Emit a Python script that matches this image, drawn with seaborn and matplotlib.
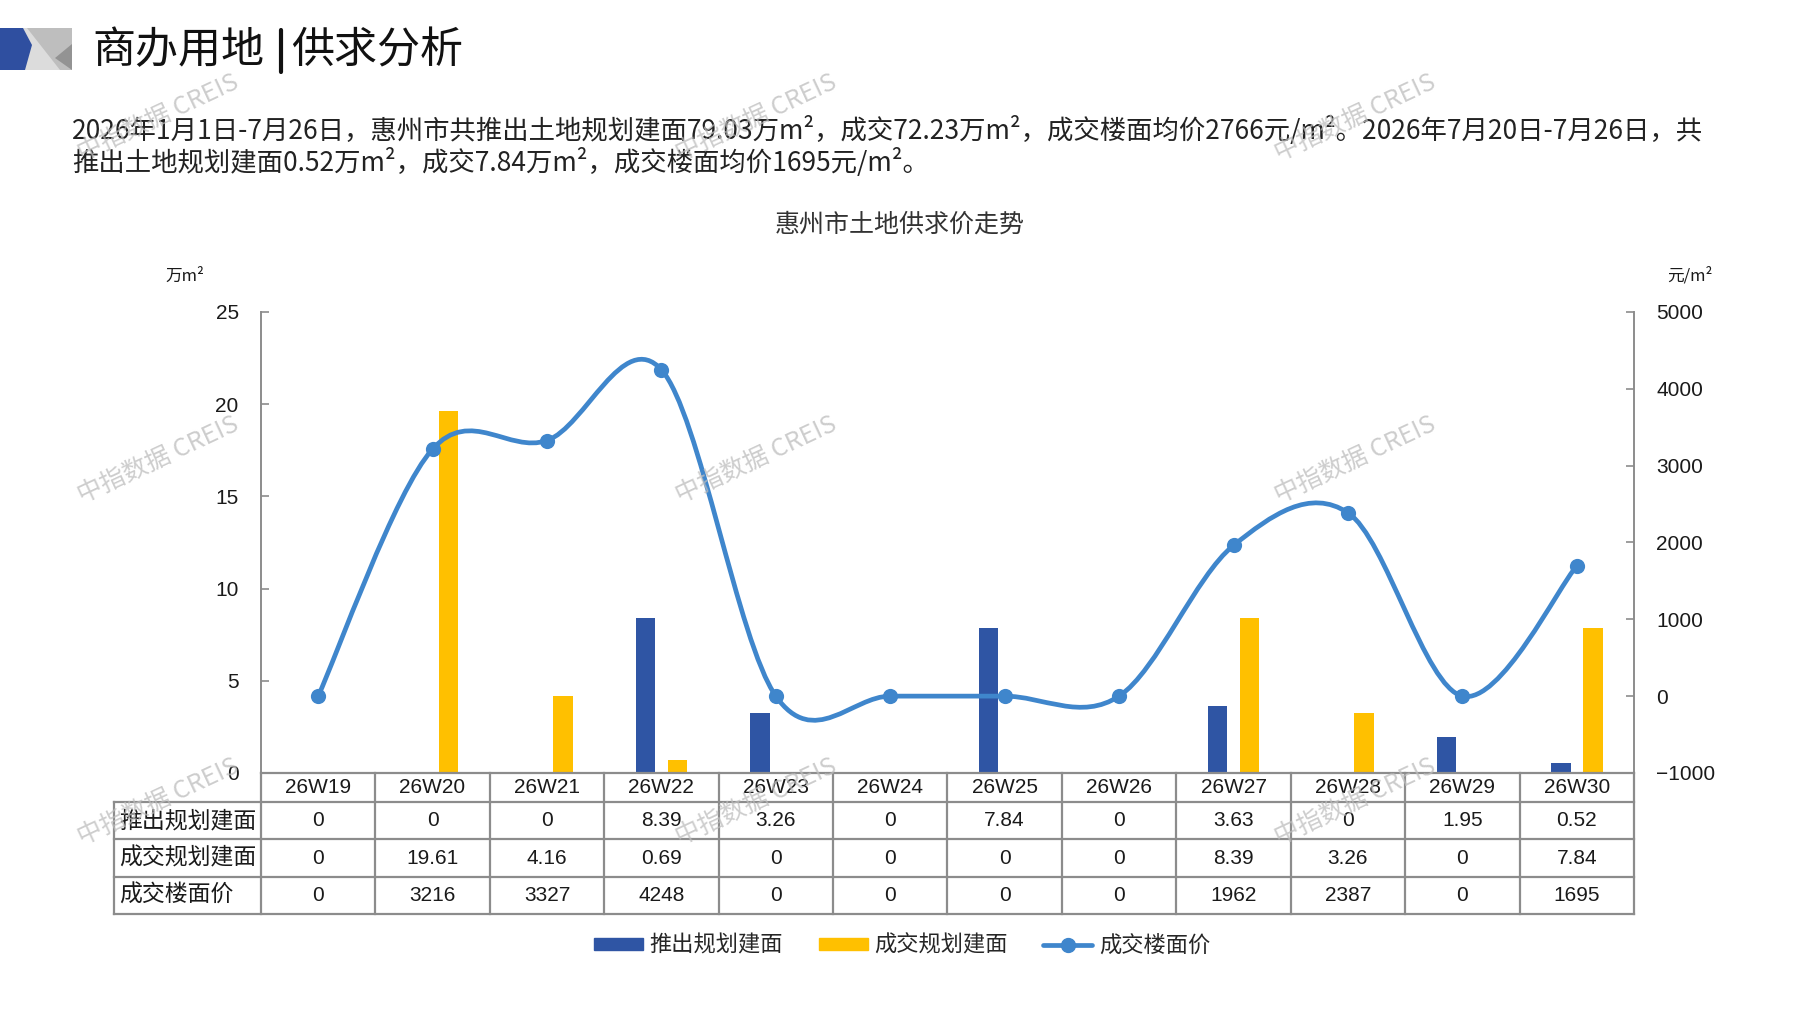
import numpy as np
import pandas as pd
import matplotlib
matplotlib.use('Agg')
import matplotlib.pyplot as plt
import seaborn as sns
from matplotlib import font_manager
from matplotlib.path import Path
from matplotlib.patches import PathPatch, Patch, Polygon
from matplotlib.lines import Line2D

# data
weeks = ['26W19', '26W20', '26W21', '26W22', '26W23', '26W24',
         '26W25', '26W26', '26W27', '26W28', '26W29', '26W30']
push_area = [0, 0, 0, 8.39, 3.26, 0, 7.84, 0, 3.63, 0, 1.95, 0.52]
deal_area = [0, 19.61, 4.16, 0.69, 0, 0, 0, 0, 8.39, 3.26, 0, 7.84]
deal_price = [0, 3216, 3327, 4248, 0, 0, 0, 0, 1962, 2387, 0, 1695]
series_names = ['推出规划建面', '成交规划建面', '成交楼面价']

BLUE = '#2F55A4'
YELLOW = '#FFC000'
LINE = '#3F86CC'
GRID = '#8C8C8C'
TEXT = '#1a1a1a'

sns.set_theme(style='white')
plt.rcParams['font.family'] = ['Noto Sans CJK SC', 'DejaVu Sans']
names = {f.name for f in font_manager.fontManager.ttflist}
NUM = 'Liberation Sans Narrow' if 'Liberation Sans Narrow' in names else 'Liberation Sans'
NUM_FONT = [NUM, 'Noto Sans CJK SC']

fig = plt.figure(figsize=(17.97, 10.10), dpi=100)

# main chart
ax = fig.add_axes([0.1452, 0.2347, 0.7641, 0.4564])
df = pd.DataFrame({
    'week': weeks * 2,
    'series': [series_names[0]] * len(weeks) + [series_names[1]] * len(weeks),
    'value': push_area + deal_area,
})
sns.barplot(data=df, x='week', y='value', hue='series', palette=[BLUE, YELLOW],
            width=0.56, gap=0.39, saturation=1, linewidth=0, legend=False, ax=ax)
ax.set_xlim(-0.5, len(weeks) - 0.5)
ax.set_ylim(0, 25)
ax.set_yticks(range(0, 26, 5))
ax.set_xlabel('')
ax.set_ylabel('')
ax.tick_params(axis='x', bottom=False, labelbottom=False)
ax.tick_params(axis='y', direction='in', length=6, color=GRID, width=1.2,
               pad=16, labelsize=15, labelcolor=TEXT)
for lab in ax.get_yticklabels():
    lab.set_family(NUM_FONT)
for s in ['top', 'right']:
    ax.spines[s].set_visible(False)
for s in ['left', 'bottom']:
    ax.spines[s].set_color(GRID)
    ax.spines[s].set_linewidth(1.4)

ax2 = ax.twinx()
ax2.set_ylim(-1000, 5000)
ax2.set_yticks(range(-1000, 5001, 1000))
ax2.tick_params(axis='y', direction='in', length=6, color=GRID, width=1.2,
                pad=16, labelsize=15, labelcolor=TEXT)
for lab in ax2.get_yticklabels():
    lab.set_family(NUM_FONT)
for s in ['top', 'left', 'bottom']:
    ax2.spines[s].set_visible(False)
ax2.spines['right'].set_color(GRID)
ax2.spines['right'].set_linewidth(1.4)
ax2.grid(False)

# smoothed price line (bezier through the data points)
xs = np.arange(len(weeks), dtype=float)
ys = np.array(deal_price, dtype=float)
verts = [(xs[0], ys[0])]
codes = [Path.MOVETO]
n = len(xs)
for i in range(n - 1):
    a = max(i - 1, 0)
    b = min(i + 2, n - 1)
    c1 = (xs[i] + (xs[i + 1] - xs[a]) / 6, ys[i] + (ys[i + 1] - ys[a]) / 6)
    c2 = (xs[i + 1] - (xs[b] - xs[i]) / 6, ys[i + 1] - (ys[b] - ys[i]) / 6)
    verts += [c1, c2, (xs[i + 1], ys[i + 1])]
    codes += [Path.CURVE4] * 3
ax2.add_patch(PathPatch(Path(verts, codes), fill=False, edgecolor=LINE,
                        lw=3.4, capstyle='round', joinstyle='round', zorder=4))
sns.scatterplot(x=xs, y=ys, ax=ax2, color=LINE, s=120, edgecolor=LINE,
                linewidth=0, zorder=5, legend=False)

# data table under the chart
axt = fig.add_axes([0.1452, 0.0950, 0.7641, 0.1396])
axt.set_xlim(-0.5, len(weeks) - 0.5)
bounds = [0, 29, 66, 104, 141]
axt.set_ylim(bounds[-1], 0)
axt.axis('off')
LX = -0.5 - 147 / 114.4
kw = dict(color=GRID, lw=1.6, clip_on=False, solid_capstyle='projecting')
axt.plot([-0.5, len(weeks) - 0.5], [0, 0], **kw)
for yb in bounds[1:]:
    axt.plot([LX, len(weeks) - 0.5], [yb, yb], **kw)
for xv in np.arange(-0.5, len(weeks)):
    axt.plot([xv, xv], [0, bounds[-1]], **kw)
axt.plot([LX, LX], [bounds[1], bounds[-1]], **kw)


def fmt(v):
    if v == 0:
        return '0'
    if float(v).is_integer():
        return str(int(v))
    return f'{v:.2f}'


for i, w in enumerate(weeks):
    axt.text(i, (bounds[0] + bounds[1]) / 2, w, ha='center', va='center',
             fontsize=15, family=NUM_FONT, color=TEXT)
rows = [push_area, deal_area, deal_price]
for r, vals in enumerate(rows):
    yc = (bounds[r + 1] + bounds[r + 2]) / 2
    axt.text(LX + 0.05, yc, series_names[r], ha='left', va='center',
             fontsize=16.5, color=TEXT)
    for i, v in enumerate(vals):
        axt.text(i, yc, fmt(v), ha='center', va='center', fontsize=15,
                 family=NUM_FONT, color=TEXT)

# legend
handles = [Patch(color=BLUE), Patch(color=YELLOW),
           Line2D([], [], color=LINE, lw=3.4, marker='o', ms=10)]
fig.legend(handles, series_names, loc='center', bbox_to_anchor=(0.502, 0.064),
           ncol=3, frameon=False, fontsize=16, handlelength=2.2,
           handleheight=0.5, columnspacing=1.6, handletextpad=0.3)

# overlay for header, texts and watermarks (pixel coordinates)
axo = fig.add_axes([0, 0, 1, 1], zorder=10)
axo.set_xlim(0, 1797)
axo.set_ylim(1010, 0)
axo.axis('off')
axo.patch.set_alpha(0)

axo.add_patch(Polygon([(0, 28), (72, 28), (72, 70), (0, 70)], color='#DCDCDC', lw=0))
axo.add_patch(Polygon([(27, 28), (72, 28), (72, 70), (60, 70)], color='#BEBEBE', lw=0))
axo.add_patch(Polygon([(72, 44), (55, 58), (72, 70)], color='#939393', lw=0))
axo.add_patch(Polygon([(0, 28), (23, 28), (32, 45), (25, 70), (0, 70)], color='#2F4FA0', lw=0))

axo.text(92, 51, '商办用地', fontsize=31, va='center', ha='left', color='#111111')
axo.plot([281, 281], [30, 72], color='#111111', lw=3)
axo.text(291, 51, '供求分析', fontsize=31, va='center', ha='left', color='#111111')

para1 = ('2026年1月1日-7月26日，惠州市共推出土地规划建面79.03万m²，成交72.23万m²，'
         '成交楼面均价2766元/m²。2026年7月20日-7月26日，共')
para2 = '推出土地规划建面0.52万m²，成交7.84万m²，成交楼面均价1695元/m²。'
axo.text(72, 130, para1, fontsize=19, va='center', ha='left', color='#222222')
axo.text(72, 163, para2, fontsize=19, va='center', ha='left', color='#222222')

axo.text(900, 225, '惠州市土地供求价走势', fontsize=18, va='center', ha='center',
         color='#333333')
axo.text(185, 276, '万m²', fontsize=12, va='center', ha='center', color=TEXT)
axo.text(1690, 276, '元/m²', fontsize=12, va='center', ha='center', color=TEXT)

for wx in [158, 756, 1355]:
    for wy in [118, 460, 802]:
        axo.text(wx, wy, '中指数据 CREIS', fontsize=18, rotation=25,
                 ha='center', va='center', color='#BDBDBD', alpha=0.75,
                 family=['Noto Sans CJK SC', 'DejaVu Sans'])

fig.savefig('out.png', dpi=100)
